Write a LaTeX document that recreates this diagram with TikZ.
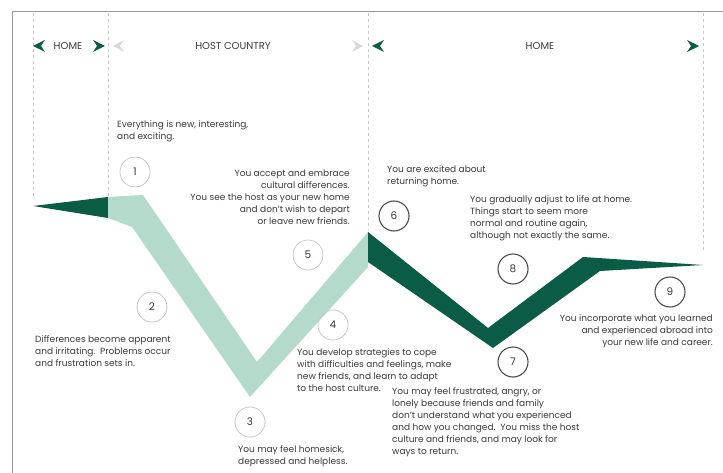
\documentclass[tikz,border=0pt]{standalone}
\usepackage{fontspec}
\setmainfont{Poppins}
\definecolor{homegreen}{HTML}{0B5C46}
\definecolor{hostgreen}{HTML}{B4DACB}
\definecolor{inkgray}{HTML}{3A3A3A}
\begin{document}
\begin{tikzpicture}[x=1pt,y=-1pt,
  stage/.style={circle,draw=black!22,line width=0.8pt,minimum size=30pt,inner sep=0pt,
    text=inkgray,font=\fontsize{10.5}{12}\selectfont},
  homestage/.style={stage,draw=black!70,line width=1.1pt},
  note/.style={inner sep=0pt,text=inkgray,font=\fontsize{9}{12}\selectfont},
  head/.style={inner sep=0pt,text=inkgray,font=\fontsize{10}{12}\selectfont},
  guide/.style={black!22,dashed,line width=0.6pt}]
 \useasboundingbox (0,0) rectangle (723,473);
 \draw[black!40,line width=0.8pt] (12,473) -- (12,11) -- (723,11);
 \foreach \x/\y in {33/196,108/196,368/230,703/252}{
 \draw[guide] (\x,13) -- (\x,\y);}
 % headers
 \foreach \x in {39,378}{
 \fill[homegreen] (\x+6,40) -- (\x-6,46) -- (\x+6,52) -- (\x+2,46) --cycle;}
 \foreach \x in {99,693}{
 \fill[homegreen] (\x-6,40) -- (\x+6,46) -- (\x-6,52) -- (\x-2,46) --cycle;}
 \fill[black!15] (124,40) -- (113,46) -- (124,52) -- (120,46) --cycle;
 \fill[black!15] (352,40) -- (363,46) -- (352,52) -- (356,46) --cycle;
 \node[head] (home1) at (68,46) {HOME};
 \node[head] (host) at (233,46) {HOST COUNTRY};
 \node[head] (home2) at (540,46) {HOME};
 % curve
 \fill[homegreen] (33,206) -- (108,197) -- (108,218) --cycle;
 \fill[hostgreen] (108,197) -- (143,195) -- (257,362) -- (368,232) -- (368,267)
   -- (250,397) -- (132,227) -- (108,218) --cycle;
 \fill[homegreen] (368,232) -- (488,328) -- (583,257) -- (703,265) -- (600,271)
   -- (493,348) -- (368,262) --cycle;
 % stages
 \foreach \n/\x/\y in {1/135/172,2/152/307,3/250/422,4/333/325,5/308/255}{
 \node[stage] (s\n) at (\x,\y) {\n};}
 \foreach \n/\x/\y in {6/394/216,7/513/362,8/513/269,9/670/292}{
 \node[homestage] (s\n) at (\x,\y) {\n};}
 % notes
 \node[note,anchor=north west,align=left] (t1) at (117,120)
   {Everything is new, interesting,\\and exciting.};
 \node[note,anchor=north east,align=right] (t5) at (350,170)
   {You accept and embrace\\cultural differences.\\You see the host as your new home\\and don't wish to depart\\or leave new friends.};
 \node[note,anchor=north west,align=left] (t2) at (35,335)
   {Differences become apparent\\and irritating.\ \ Problems occur\\and frustration sets in.};
 \node[note,anchor=north west,align=left] (t4) at (297,348)
   {You develop strategies to cope\\with difficulties and feelings, make\\new friends, and learn to adapt\\to the host culture.};
 \node[note,anchor=north west,align=left] (t3) at (238,445)
   {You may feel homesick,\\depressed and helpless.};
 \node[note,anchor=north west,align=left] (t6) at (387,165)
   {You are excited about\\returning home.};
 \node[note,anchor=north west,align=left] (t8) at (470,195)
   {You gradually adjust to life at home.\\Things start to seem more\\normal and routine again,\\although not exactly the same.};
 \node[note,anchor=north east,align=right] (t9) at (713,314)
   {You incorporate what you learned\\and experienced abroad into\\your new life and career.};
 \node[note,anchor=north west,align=left] (t7) at (392,387)
   {You may feel frustrated, angry, or\\lonely because friends and family\\don't understand what you experienced\\and how you changed.\ \ You miss the host\\culture and friends, and may look for\\ways to return.};
\end{tikzpicture}
\end{document}
